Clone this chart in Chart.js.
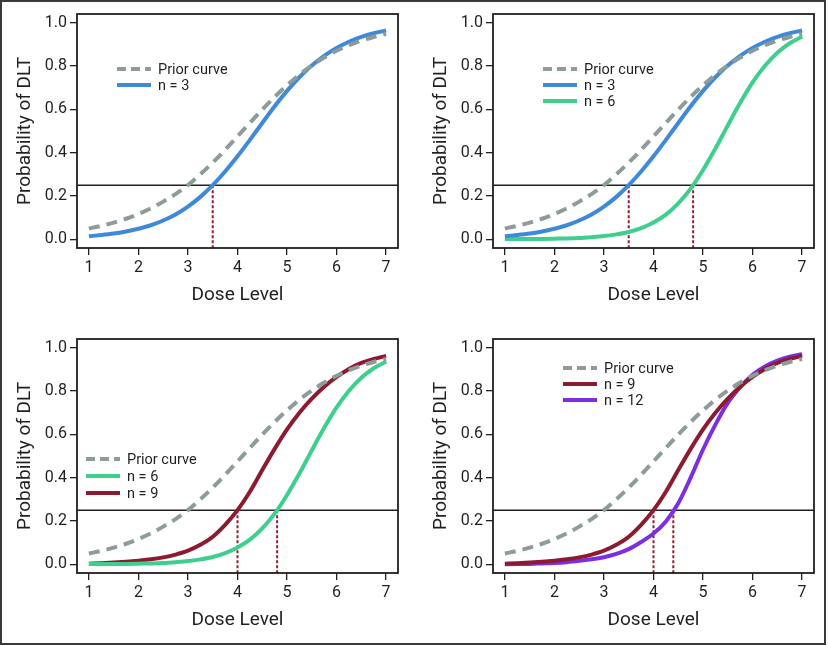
<!DOCTYPE html>
<html>
<head>
<meta charset="utf-8">
<script src="https://cdn.jsdelivr.net/npm/chart.js@4.4.1/dist/chart.umd.min.js"></script>
<style>
  body { margin: 0; background: #fff; }
  #frame { position: absolute; left: 0; top: 0; width: 822px; height: 641px; border: 2px solid #3a3a3a; }
  canvas { position: absolute; }
</style>
</head>
<body>
<div id="frame"></div>
<canvas id="p1" width="410" height="320" style="left:0;top:0"></canvas>
<canvas id="p2" width="410" height="320" style="left:416px;top:0"></canvas>
<canvas id="p3" width="410" height="320" style="left:0;top:325px"></canvas>
<canvas id="p4" width="410" height="320" style="left:416px;top:325px"></canvas>
<script>
// dose grid and curves
const doseLevels = [1, 1.25, 1.5, 1.75, 2, 2.25, 2.5, 2.75, 3, 3.25, 3.5, 3.75, 4, 4.25, 4.5, 4.75, 5, 5.25, 5.5, 5.75, 6, 6.25, 6.5, 6.75, 7];
const priorCurve = [0.050, 0.062, 0.077, 0.095, 0.117, 0.143, 0.174, 0.209, 0.250, 0.300, 0.354, 0.413, 0.475, 0.537, 0.599, 0.657, 0.711, 0.760, 0.802, 0.839, 0.870, 0.896, 0.917, 0.934, 0.948];
const curveN3 = [0.014, 0.020, 0.027, 0.036, 0.049, 0.065, 0.087, 0.115, 0.151, 0.196, 0.250, 0.313, 0.383, 0.459, 0.537, 0.614, 0.685, 0.748, 0.802, 0.847, 0.883, 0.912, 0.934, 0.951, 0.964];
const curveN6 = [0.001, 0.001, 0.001, 0.002, 0.003, 0.004, 0.006, 0.010, 0.015, 0.023, 0.034, 0.052, 0.078, 0.114, 0.166, 0.234, 0.320, 0.419, 0.526, 0.630, 0.724, 0.801, 0.861, 0.905, 0.936];
const curveN9 = [0.003, 0.005, 0.008, 0.012, 0.017, 0.023, 0.032, 0.045, 0.063, 0.090, 0.127, 0.182, 0.250, 0.335, 0.435, 0.533, 0.623, 0.700, 0.765, 0.820, 0.865, 0.902, 0.930, 0.948, 0.962];
const curveN12 = [0.000, 0.001, 0.002, 0.004, 0.006, 0.010, 0.016, 0.023, 0.033, 0.048, 0.070, 0.103, 0.142, 0.198, 0.282, 0.400, 0.530, 0.645, 0.745, 0.818, 0.875, 0.913, 0.940, 0.958, 0.970];

const targetTox = 0.25;
const mtdP1 = [3.5];
const mtdP2 = [3.5, 4.8];
const mtdP3 = [4.0, 4.8];
const mtdP4 = [4.0, 4.4];

const xTicks = [1, 2, 3, 4, 5, 6, 7];
const yTicks = [0, 0.2, 0.4, 0.6, 0.8, 1.0];

const ink = "#231f20";
const fontFam = "Roboto, 'Liberation Sans', Arial, sans-serif";

const series = {
    prior: { label: "Prior curve", data: priorCurve, color: "#8d9c98", dash: [11, 7] },
    n3: { label: "n = 3", data: curveN3, color: "#3e8ad9" },
    n6: { label: "n = 6", data: curveN6, color: "#3ecf8e" },
    n9: { label: "n = 9", data: curveN9, color: "#8c1b2f" },
    n12: { label: "n = 12", data: curveN12, color: "#7a2fe3" }
};

const panels = [
    { id: "p1", keys: ["prior", "n3"], mtd: mtdP1, leg: { x: 40, y: 55, gap: 16 } },
    { id: "p2", keys: ["prior", "n3", "n6"], mtd: mtdP2, leg: { x: 50, y: 55, gap: 16 } },
    { id: "p3", keys: ["prior", "n6", "n9"], mtd: mtdP3, leg: { x: 9, y: 120, gap: 17 } },
    { id: "p4", keys: ["prior", "n9", "n12"], mtd: mtdP4, leg: { x: 70, y: 29, gap: 16 } }
];

const xMin = 0.76, xMax = 7.24, yMin = -0.04, yMax = 1.04;

const boxPlugin = {
    id: "box",
    beforeDatasetsDraw(chart) {
        const { ctx, chartArea } = chart;
        const y = chart.scales.y.getPixelForValue(targetTox);
        ctx.save();
        ctx.strokeStyle = ink;
        ctx.lineWidth = 1.5;
        ctx.beginPath();
        ctx.moveTo(chartArea.left, y);
        ctx.lineTo(chartArea.right, y);
        ctx.stroke();
        ctx.restore();
    },
    afterDraw(chart) {
        const { ctx, chartArea } = chart;
        ctx.save();
        ctx.strokeStyle = ink;
        ctx.lineWidth = 1.8;
        ctx.strokeRect(chartArea.left, chartArea.top, chartArea.right - chartArea.left, chartArea.bottom - chartArea.top);

        // legend inside the plot
        const leg = chart.options.plugins.box;
        ctx.font = "14.5px " + fontFam;
        ctx.textBaseline = "middle";
        leg.keys.forEach((k, i) => {
            const s = series[k];
            const lx = chartArea.left + leg.x;
            const ly = chartArea.top + leg.y + i * leg.gap;
            ctx.strokeStyle = s.color;
            ctx.lineWidth = 4;
            ctx.setLineDash(s.dash ? [9, 5] : []);
            ctx.beginPath();
            ctx.moveTo(lx, ly);
            ctx.lineTo(lx + 34, ly);
            ctx.stroke();
            ctx.setLineDash([]);
            ctx.fillStyle = ink;
            ctx.fillText(s.label, lx + 41, ly + 1);
        });
        ctx.restore();
    }
};

function crearPanel(p) {
    const datasets = p.keys.map((k) => {
        const s = series[k];
        return {
            label: s.label,
            data: doseLevels.map((d, i) => ({ x: d, y: s.data[i] })),
            borderColor: s.color,
            borderWidth: 4,
            borderDash: s.dash || [],
            pointRadius: 0,
            cubicInterpolationMode: "monotone",
            fill: false
        };
    });
    p.mtd.forEach((d) => {
        datasets.push({
            data: [{ x: d, y: targetTox }, { x: d, y: yMin }],
            borderColor: "#9b1b32",
            borderWidth: 2,
            borderDash: [3, 2],
            pointRadius: 0
        });
    });

    new Chart(document.getElementById(p.id), {
        type: "line",
        data: { datasets },
        plugins: [boxPlugin],
        options: {
            responsive: false,
            animation: false,
            layout: { padding: { left: 0, top: 14, right: 12, bottom: 12 } },
            plugins: {
                legend: { display: false },
                tooltip: { enabled: false },
                box: { keys: p.keys, x: p.leg.x, y: p.leg.y, gap: p.leg.gap }
            },
            scales: {
                x: {
                    type: "linear", min: xMin, max: xMax,
                    afterBuildTicks: (sc) => { sc.ticks = xTicks.map((v) => ({ value: v })); },
                    afterFit: (sc) => { sc.height = 60; },
                    grid: { drawOnChartArea: false, drawTicks: true, tickLength: 7, color: ink, lineWidth: 1.3 },
                    border: { display: false },
                    ticks: { color: ink, font: { size: 16, family: fontFam }, padding: 3, maxRotation: 0 },
                    title: { display: true, text: "Dose Level", color: ink, font: { size: 19, family: fontFam }, padding: { top: 0, bottom: 1 } }
                },
                y: {
                    type: "linear", min: yMin, max: yMax,
                    afterBuildTicks: (sc) => { sc.ticks = yTicks.map((v) => ({ value: v })); },
                    afterFit: (sc) => { sc.width = 77; },
                    grid: { drawOnChartArea: false, drawTicks: true, tickLength: 7, color: ink, lineWidth: 1.3 },
                    border: { display: false },
                    ticks: { color: ink, font: { size: 16, family: fontFam }, padding: 3, callback: (v) => v.toFixed(1) },
                    title: { display: true, text: "Probability of DLT", color: ink, font: { size: 19, family: fontFam }, padding: { top: 14, bottom: 0 } }
                }
            }
        }
    });
}

panels.forEach(crearPanel);
</script>
</body>
</html>
